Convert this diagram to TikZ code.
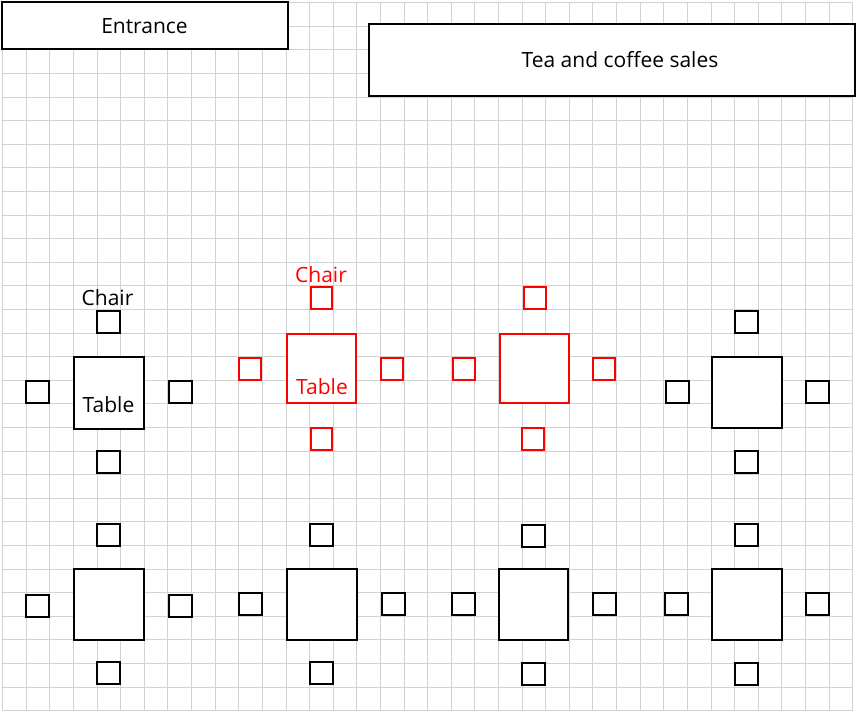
\documentclass[tikz,border=0pt]{standalone}
\usepackage{fontspec}
\setmainfont{Open Sans}
\tikzset{
  gridline/.style={draw=gridgray,line width=1pt},
  room/.style={draw=black,fill=white,line width=2pt,inner sep=0pt,outer sep=0pt},
  blackbox/.style={room},
  redbox/.style={room,draw=markred},
  blacktxt/.style={anchor=base,inner sep=0pt,text=black,font=\fontsize{21}{25}\selectfont},
  redtxt/.style={blacktxt,text=markred}
}
\definecolor{gridgray}{HTML}{D2D2D2}
\definecolor{markred}{HTML}{FF0000}
% outer edges in pixels: name, style, x0, y0, x1, y1, text
\newcommand{\bx}[7][]{%
  \pgfmathsetmacro{\cxx}{(#4+#6)/2}%
  \pgfmathsetmacro{\cyy}{(#5+#7)/2}%
  \pgfmathsetmacro{\wdd}{#6-#4-2}%
  \pgfmathsetmacro{\htt}{#7-#5-2}%
  \node[#3,minimum width=\wdd pt,minimum height=\htt pt] (#2) at (\cxx,\cyy) {#1};}
\begin{document}
\begin{tikzpicture}[x=1pt,y=-1pt]
\useasboundingbox (0,0) rectangle (856,714);
\fill[white] (0,0) rectangle (856,714);
% grid
\foreach \k in {0,...,36}{
  \pgfmathsetmacro{\gx}{2.7+23.61*\k}
  \draw[gridline] (\gx,2.7) -- (\gx,710.8);
}
\foreach \k in {0,...,30}{
  \pgfmathsetmacro{\gy}{2.7+23.6*\k}
  \draw[gridline] (2.7,\gy) -- (852.7,\gy);
}
% header boxes
\bx{entrance}{blackbox}{1.3}{1.3}{288.5}{50.5}
\bx{sales}{blackbox}{368.3}{22.7}{856}{96.7}
\node[blacktxt] (entrancetxt) at (144.5,33.6) {Entrance};
\node[blacktxt] (salestxt) at (620,67.4) {Tea and coffee sales};
% row 1, column 1
\bx{tA}{blackbox}{73}{356}{144.7}{429.7}
\bx{tAn}{blackbox}{96}{310}{120.7}{333.7}
\bx{tAw}{blackbox}{25}{380.3}{50}{404}
\bx{tAe}{blackbox}{168}{380.3}{193}{404}
\bx{tAs}{blackbox}{96}{450}{120.7}{473.7}
\node[blacktxt] (chairA) at (107.5,305) {Chair};
\node[blacktxt] (tableA) at (108.5,412.7) {Table};
% row 1, column 2 (red)
\bx{tB}{redbox}{286}{333}{357}{403.7}
\bx{tBn}{redbox}{309.5}{286.3}{332.7}{310}
\bx{tBw}{redbox}{238}{357.3}{261.7}{380.7}
\bx{tBe}{redbox}{380.3}{357.3}{404}{380.7}
\bx{tBs}{redbox}{309.5}{427.3}{332.7}{451}
\node[redtxt] (chairB) at (321,282.7) {Chair};
\node[redtxt] (tableB) at (322,394.3) {Table};
% row 1, column 3 (red)
\bx{tC}{redbox}{499.3}{333.4}{569.7}{404}
\bx{tCn}{redbox}{523.3}{286}{546.7}{309.7}
\bx{tCw}{redbox}{452}{357.3}{475.7}{380.7}
\bx{tCe}{redbox}{592.3}{357.3}{615.7}{380.7}
\bx{tCs}{redbox}{521.3}{427.3}{545}{451}
% row 1, column 4
\bx{tD}{blackbox}{711}{356.3}{782.7}{429.3}
\bx{tDn}{blackbox}{734.3}{310}{759}{333.7}
\bx{tDw}{blackbox}{665.3}{380}{690}{404}
\bx{tDe}{blackbox}{805.3}{380}{830}{404}
\bx{tDs}{blackbox}{734.3}{450.3}{759}{473.7}
% row 2, column 1
\bx{tE}{blackbox}{73.3}{568.3}{144.7}{641.3}
\bx{tEn}{blackbox}{96.3}{523.3}{120.7}{546.7}
\bx{tEw}{blackbox}{25.3}{594.3}{50}{617.7}
\bx{tEe}{blackbox}{168.3}{594.3}{192.7}{617.7}
\bx{tEs}{blackbox}{96.3}{661.3}{120.7}{684.7}
% row 2, column 2
\bx{tF}{blackbox}{286}{568.3}{357.7}{641.3}
\bx{tFn}{blackbox}{309.3}{523.3}{333.7}{546.7}
\bx{tFw}{blackbox}{238}{592.3}{262.7}{615.7}
\bx{tFe}{blackbox}{381.3}{592.3}{405.7}{615.7}
\bx{tFs}{blackbox}{309.3}{661.3}{333.7}{684.7}
% row 2, column 3
\bx{tG}{blackbox}{498}{568.3}{569.3}{641.3}
\bx{tGn}{blackbox}{521.3}{524}{545.7}{547.7}
\bx{tGw}{blackbox}{451.3}{592.3}{475.7}{615.7}
\bx{tGe}{blackbox}{592.3}{592.3}{616.7}{615.7}
\bx{tGs}{blackbox}{521.3}{662.3}{545.7}{686}
% row 2, column 4
\bx{tH}{blackbox}{711}{568.3}{782.7}{641.3}
\bx{tHn}{blackbox}{734.3}{523.3}{758.7}{546.7}
\bx{tHw}{blackbox}{664}{592.3}{688.7}{615.7}
\bx{tHe}{blackbox}{805}{592.3}{830}{615.7}
\bx{tHs}{blackbox}{734.3}{662.3}{758.7}{686}
\end{tikzpicture}
\end{document}
